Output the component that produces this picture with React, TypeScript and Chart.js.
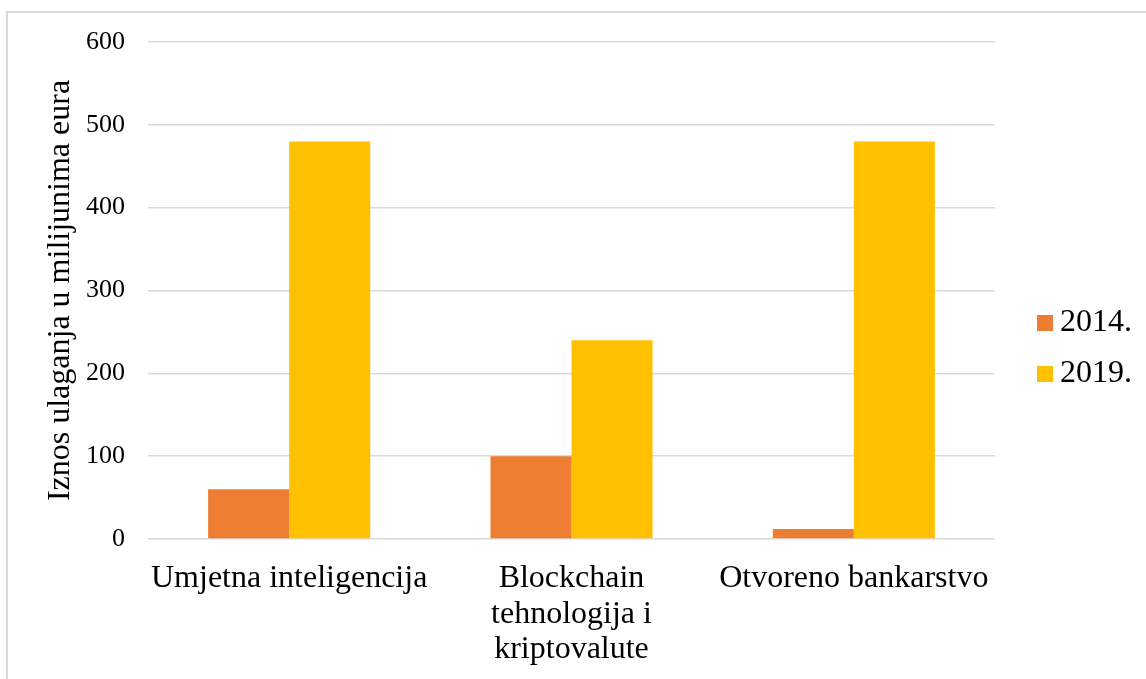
import React, { useEffect, useRef } from "react";
import { Chart, registerables } from "chart.js";

Chart.register(...registerables);

const categories: (string | string[])[] = [
  "Umjetna inteligencija",
  ["Blockchain", "tehnologija i", "kriptovalute"],
  "Otvoreno bankarstvo",
];
const seriesNames = ["2014.", "2019."];
const values2014 = [60, 100, 12];
const values2019 = [480, 240, 480];
const seriesColors = ["#ED7D31", "#FFC000"];
const yTicks = [0, 100, 200, 300, 400, 500, 600];
const yTitle = "Iznos ulaganja u milijunima eura";

const FONT = '"Liberation Serif", "Times New Roman", serif';

const customLegend = {
  id: "customLegend",
  afterDraw(chart: any) {
    const { ctx, chartArea } = chart;
    const x0 = chartArea.right + 42;
    const yStart = chartArea.top + 281;
    const gap = 51;
    ctx.save();
    ctx.font = `32px ${FONT}`;
    ctx.textBaseline = "middle";
    ctx.textAlign = "left";
    chart.data.datasets.forEach((ds: any, i: number) => {
      const yc = yStart + i * gap;
      ctx.fillStyle = ds.backgroundColor;
      ctx.fillRect(x0, yc - 8, 16, 16);
      ctx.fillStyle = "#000";
      ctx.fillText(ds.label, x0 + 23, yc);
    });
    ctx.restore();
  },
};

export default function App() {
  const canvasRef = useRef<HTMLCanvasElement | null>(null);

  useEffect(() => {
    if (!canvasRef.current) return;
    const chart = new Chart(canvasRef.current, {
      type: "bar",
      data: {
        labels: categories as any,
        datasets: [
          {
            label: seriesNames[0],
            data: values2014,
            backgroundColor: seriesColors[0],
            categoryPercentage: 0.574,
            barPercentage: 1,
          },
          {
            label: seriesNames[1],
            data: values2019,
            backgroundColor: seriesColors[1],
            categoryPercentage: 0.574,
            barPercentage: 1,
          },
        ],
      },
      options: {
        responsive: false,
        animation: false,
        layout: { padding: { left: 0, right: 151, top: 42, bottom: 0 } },
        plugins: {
          legend: { display: false },
          tooltip: { enabled: false },
        },
        scales: {
          x: {
            grid: { display: false, drawTicks: false },
            border: { display: false },
            ticks: {
              color: "#000",
              font: { family: FONT, size: 32, lineHeight: 1.11 },
              padding: 22,
              autoSkip: false,
              maxRotation: 0,
              minRotation: 0,
            },
            afterFit: (scale: any) => {
              scale.height = 140;
            },
          },
          y: {
            min: 0,
            max: 600,
            afterBuildTicks: (scale: any) => {
              scale.ticks = yTicks.map((v) => ({ value: v }));
            },
            grid: { color: "#d9d9d9", lineWidth: 1.5, drawTicks: false },
            border: { display: false },
            ticks: {
              color: "#000",
              font: { family: FONT, size: 26 },
              padding: 23,
            },
            title: {
              display: true,
              text: yTitle,
              color: "#000",
              font: { family: FONT, size: 32 },
              padding: { top: 41, bottom: 0 },
            },
            afterFit: (scale: any) => {
              scale.width = 148;
            },
          },
        },
      },
      plugins: [customLegend],
    });
    return () => chart.destroy();
  }, []);

  return (
    <div
      style={{
        position: "absolute",
        left: 0,
        top: 0,
        width: 1146,
        height: 679,
        overflow: "hidden",
        background: "#fff",
      }}
    >
      <div
        style={{
          position: "absolute",
          left: 6,
          top: 11,
          width: 1200,
          height: 720,
          border: "2px solid #d9d9d9",
          boxSizing: "border-box",
        }}
      />
      <canvas
        ref={canvasRef}
        width={1146}
        height={679}
        style={{ position: "absolute", left: 0, top: 0, width: 1146, height: 679 }}
      />
    </div>
  );
}
